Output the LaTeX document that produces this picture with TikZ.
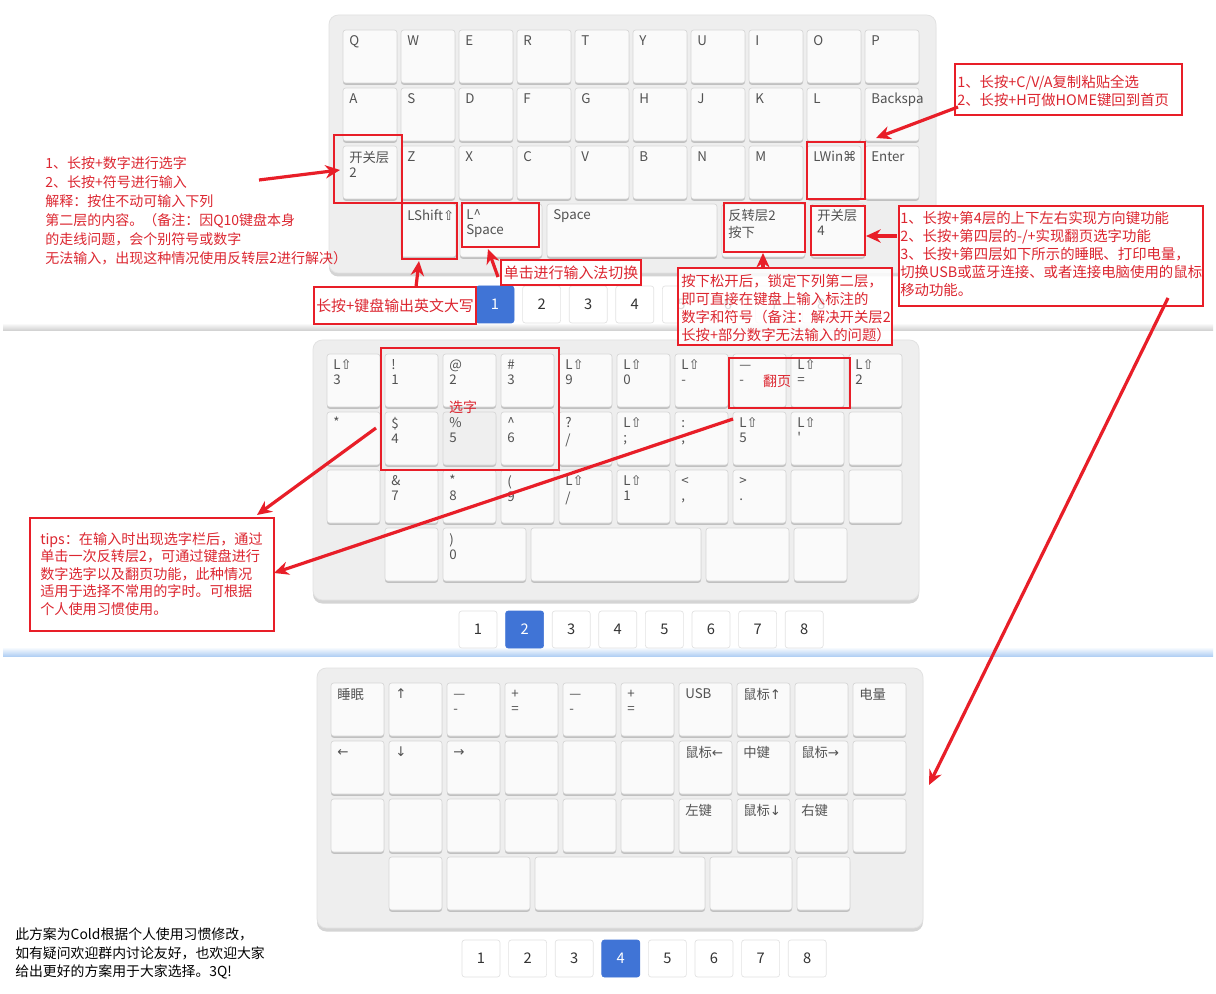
\documentclass[tikz,border=0pt]{standalone}
\usepackage{fontspec}
\setmainfont{Noto Sans CJK SC}
\newfontfamily\dv{DejaVu Sans}
\usetikzlibrary{arrows.meta,calc}
\definecolor{annred}{RGB}{232,30,40}
\definecolor{anntxt}{RGB}{220,38,48}
\definecolor{panelfill}{RGB}{238,238,238}
\definecolor{panelline}{RGB}{226,226,226}
\definecolor{panelshadow}{RGB}{212,212,212}
\definecolor{keyfill}{RGB}{250,250,250}
\definecolor{keypress}{RGB}{239,239,239}
\definecolor{keyline}{RGB}{214,214,214}
\definecolor{keyshadow}{RGB}{192,192,192}
\definecolor{keytext}{RGB}{82,82,82}
\definecolor{pageline}{RGB}{226,226,226}
\definecolor{pageblue}{RGB}{64,116,214}
\definecolor{pagetext}{RGB}{51,51,51}
\definecolor{sepgray}{RGB}{205,205,205}
\definecolor{sepblue}{RGB}{178,208,244}
\newcommand\shf{{\dv ⇧}}
\newcommand\keycap[7][]{%
  \fill[keyshadow,rounded corners=2pt] (#3,#4+1.8) rectangle ++(#5,#6);
  \node[keyshape,minimum width=#5*0.75pt,minimum height=#6*0.75pt,#1] (#2) at (#3+#5/2,#4+#6/2) {};
  \node[klabel] (#2l) at (#3+6,#4+5) {\strut #7};
}
\begin{document}
\begin{tikzpicture}[x=0.75pt,y=-0.75pt,
  keyshape/.style={draw=keyline,fill=keyfill,rounded corners=2pt,inner sep=0pt,line width=0.5pt},
  klabel/.style={anchor=north west,inner sep=0pt,align=left,text=keytext,font=\fontsize{10pt}{11.25pt}\selectfont},
  panelbox/.style={draw=panelline,fill=panelfill,rounded corners=7pt,line width=0.6pt},
  pagebtn/.style={draw=pageline,fill=white,rounded corners=2pt,minimum width=28.5pt,minimum height=27.75pt,inner sep=0pt,text=pagetext,font=\fontsize{11pt}{13pt}\selectfont,line width=0.5pt},
  pageact/.style={pagebtn,draw=pageblue,fill=pageblue,text=white},
  keymark/.style={draw=annred,line width=1.6pt},
  annbox/.style={draw=annred,line width=1.6pt,fill=white,inner sep=0pt,anchor=north west},
  anntext/.style={text=anntxt,inner sep=0pt,align=left,anchor=west,font=\fontsize{10.8pt}{13.5pt}\selectfont},
  annarrow/.style={draw=annred,line width=2.4pt,-{Stealth[length=11pt,width=10pt]}},
]
\useasboundingbox (0,0) rectangle (1216,994);
\fill[white] (0,0) rectangle (1216,994);
% separators
\shade[top color=white,bottom color=sepgray] (3,323) rectangle (1213,331);
\shade[top color=white,bottom color=sepblue] (3,647) rectangle (1213,656);

% ---------- top keyboard ----------
\fill[panelshadow,rounded corners=7pt] (329,18) rectangle (936,276.5);
\draw[panelbox] (329,15) rectangle (936,273);
\foreach \l [count=\i from 0] in {Q,W,E,R,T,Y,U,I,O,P}{\keycap{ta\i}{343+58*\i}{30}{54}{53}{\l}}
\foreach \l [count=\i from 0] in {A,S,D,F,G,H,J,K,L,Backspa}{\keycap{tb\i}{343+58*\i}{88}{54}{53}{\l}}
\foreach \l [count=\i from 0] in {{开关层\\2},Z,X,C,V,B,N,M,{LWin{\dv ⌘}},Enter}{\keycap{tc\i}{343+58*\i}{146}{54}{53}{\l}}
\keycap{td0}{401}{204}{55}{53}{LShift\shf}
\keycap{td1}{460}{204}{82}{53}{L\textasciicircum\\Space}
\keycap{td2}{547}{204}{170}{53}{Space}
\keycap{td3}{722}{204}{83}{53}{反转层2\\按下}
\keycap{td4}{811}{204}{54}{53}{开关层\\4}
\foreach \i in {1,...,8}{%
  \ifnum\i=1 \tikzset{btncur/.style={pageact}}\else\tikzset{btncur/.style={pagebtn}}\fi
  \node[btncur] (tp\i) at ({495+46.6*(\i-1)},304.5) {\i};}

% ---------- middle keyboard ----------
\fill[panelshadow,rounded corners=7pt] (313,343) rectangle (919,603.5);
\draw[panelbox] (313,340) rectangle (919,600);
\foreach \l [count=\i from 0] in {{L\shf\\3},{!\\1},{@\\2},{\#\\3},{L\shf\\9},{L\shf\\0},{L\shf\\-},{—\\-},{L\shf\\=},{L\shf\\2}}{\keycap{ma\i}{327+58*\i}{354}{53}{53}{\l}}
\keycap{mb0}{327}{412}{53}{53}{*}
\keycap{mb1}{385}{412}{53}{53}{\$\\4}
\keycap[fill=keypress]{mb2}{443}{412}{53}{53}{\%\\5}
\keycap{mb3}{501}{412}{53}{53}{\textasciicircum\\6}
\keycap{mb4}{559}{412}{53}{53}{?\\/}
\keycap{mb5}{617}{412}{53}{53}{L\shf\\;}
\keycap{mb6}{675}{412}{53}{53}{:\\;}
\keycap{mb7}{733}{412}{53}{53}{L\shf\\5}
\keycap{mb8}{791}{412}{53}{53}{L\shf\\\textquotesingle}
\keycap{mb9}{849}{412}{53}{53}{}
\foreach \l [count=\i from 0] in {{},{\&\\7},{*\\8},{(\\9},{L\shf\\/},{L\shf\\1},{<\\,},{>\\.},{},{}}{\keycap{mc\i}{327+58*\i}{470}{53}{53}{\l}}
\keycap{md0}{385}{528}{53}{53}{}
\keycap{md1}{443}{528}{83}{53}{)\\0}
\keycap{md2}{531}{528}{170}{53}{}
\keycap{md3}{706}{528}{83}{53}{}
\keycap{md4}{794}{528}{53}{53}{}
\foreach \i in {1,...,8}{%
  \ifnum\i=2 \tikzset{btncur/.style={pageact}}\else\tikzset{btncur/.style={pagebtn}}\fi
  \node[btncur] (mp\i) at ({478+46.6*(\i-1)},629.5) {\i};}

% ---------- bottom keyboard ----------
\fill[panelshadow,rounded corners=7pt] (317,671) rectangle (923,931.5);
\draw[panelbox] (317,668) rectangle (923,928);
\foreach \l [count=\i from 0] in {{睡眠},{{\dv ↑}},{—\\-},{+\\=},{—\\-},{+\\=},{USB},{鼠标{\dv ↑}},{},{电量}}{\keycap{ba\i}{331+58*\i}{683}{53}{53}{\l}}
\foreach \l [count=\i from 0] in {{{\dv ←}},{{\dv ↓}},{{\dv →}},{},{},{},{鼠标{\dv ←}},{中键},{鼠标{\dv →}},{}}{\keycap{bb\i}{331+58*\i}{741}{53}{53}{\l}}
\foreach \l [count=\i from 0] in {{},{},{},{},{},{},{左键},{鼠标{\dv ↓}},{右键},{}}{\keycap{bc\i}{331+58*\i}{799}{53}{53}{\l}}
\keycap{bd0}{389}{857}{53}{53}{}
\keycap{bd1}{447}{857}{83}{53}{}
\keycap{bd2}{535}{857}{170}{53}{}
\keycap{bd3}{710}{857}{82}{53}{}
\keycap{bd4}{797}{857}{53}{53}{}
\foreach \i in {1,...,8}{%
  \ifnum\i=4 \tikzset{btncur/.style={pageact}}\else\tikzset{btncur/.style={pagebtn}}\fi
  \node[btncur] (bp\i) at ({481+46.6*(\i-1)},958.5) {\i};}

% ---------- red marks on keys ----------
\draw[keymark] (334,135) rectangle (402,203);
\draw[keymark] (402,203) rectangle (457,259);
\draw[keymark] (462,203) rectangle (539,247);
\draw[keymark] (724,203) rectangle (805,252);
\draw[keymark] (811,206) rectangle (865,255);
\draw[keymark] (807,142) rectangle (865,199);
\draw[keymark] (381,348) rectangle (559,470);
\draw[keymark] (729,358) rectangle (850,408);
\node[text=anntxt,inner sep=0pt,font=\fontsize{10.5pt}{12pt}\selectfont] (xuanzi) at (463,407) {选字};
\node[text=anntxt,inner sep=0pt,font=\fontsize{10.5pt}{12pt}\selectfont] (fanye) at (777,381) {翻页};

% ---------- annotations ----------
\node[anntext,font=\fontsize{10.5pt}{14.25pt}\selectfont] (lefttext) at (45,210.5) {1、长按+数字进行选字\\2、长按+符号进行输入\\解释：按住不动可输入下列\\第二层的内容。（备注：因Q10键盘本身\\的走线问题，会个别符号或数字\\无法输入，出现这种情况使用反转层2进行解决）};

\node[annbox,minimum width=121.5pt,minimum height=27.75pt] (boxA) at (313,286) {};
\node[text=anntxt,inner sep=0pt,font=\fontsize{11.2pt}{13pt}\selectfont] (boxAt) at (boxA.center) {长按+键盘输出英文大写};

\node[annbox,minimum width=105pt,minimum height=18.75pt] (boxB) at (500,259) {};
\node[text=anntxt,inner sep=0pt,font=\fontsize{11.2pt}{13pt}\selectfont] (boxBt) at (boxB.center) {单击进行输入法切换};

\node[annbox,fill opacity=0.82,minimum width=160.5pt,minimum height=57.75pt] (boxC) at (677,267) {};
\node[anntext] (boxCt) at (681,308) {按下松开后，锁定下列第二层，\\即可直接在键盘上输入标注的\\数字和符号（备注：解决开关层2\\长按+部分数字无法输入的问题）};

\node[annbox,minimum width=170.25pt,minimum height=38.25pt] (boxD) at (954,63) {};
\node[anntext] (boxDt) at (957,91) {1、长按+C/V/A复制粘贴全选\\2、长按+H可做HOME键回到首页};

\node[annbox,minimum width=228pt,minimum height=75pt] (boxE) at (898,205) {};
\node[anntext] (boxEt) at (900,254) {1、长按+第4层的上下左右实现方向键功能\\2、长按+第四层的-/+实现翻页选字功能\\3、长按+第四层如下所示的睡眠、打印电量，\\切换USB或蓝牙连接、或者连接电脑使用的鼠标\\移动功能。};

\node[annbox,minimum width=183pt,minimum height=84.75pt] (boxF) at (29,517) {};
\node[anntext,font=\fontsize{10.6pt}{13.1pt}\selectfont] (boxFt) at (40,574) {tips：在输入时出现选字栏后，通过\\单击一次反转层2，可通过键盘进行\\数字选字以及翻页功能，此种情况\\适用于选择不常用的字时。可根据\\个人使用习惯使用。};

\node[anntext,text=black,font=\fontsize{10.4pt}{13.9pt}\selectfont] (credit) at (15,953.5) {此方案为Cold根据个人使用习惯修改，\\如有疑问欢迎群内讨论友好，也欢迎大家\\给出更好的方案用于大家选择。3Q!};

% ---------- arrows ----------
\coordinate (a1s) at (259,180); \coordinate (a1e) at (340,170);
\coordinate (a2s) at (416,287); \coordinate (a2e) at (419,261);
\coordinate (a3s) at (498,277); \coordinate (a3e) at (488,249);
\coordinate (a4s) at (763,268); \coordinate (a4e) at (763,253);
\coordinate (a5s) at (897,236); \coordinate (a5e) at (866,236);
\coordinate (a6s) at (958,107); \coordinate (a6e) at (876,138);
\coordinate (a7s) at (1168,298); \coordinate (a7e) at (929,785);
\coordinate (a8s) at (376,428); \coordinate (a8e) at (257,515);
\coordinate (a9s) at (733,419); \coordinate (a9e) at (274,573);
\foreach \k in {1,...,9}{\draw[annarrow] (a\k s) -- (a\k e);}
\end{tikzpicture}
\end{document}
